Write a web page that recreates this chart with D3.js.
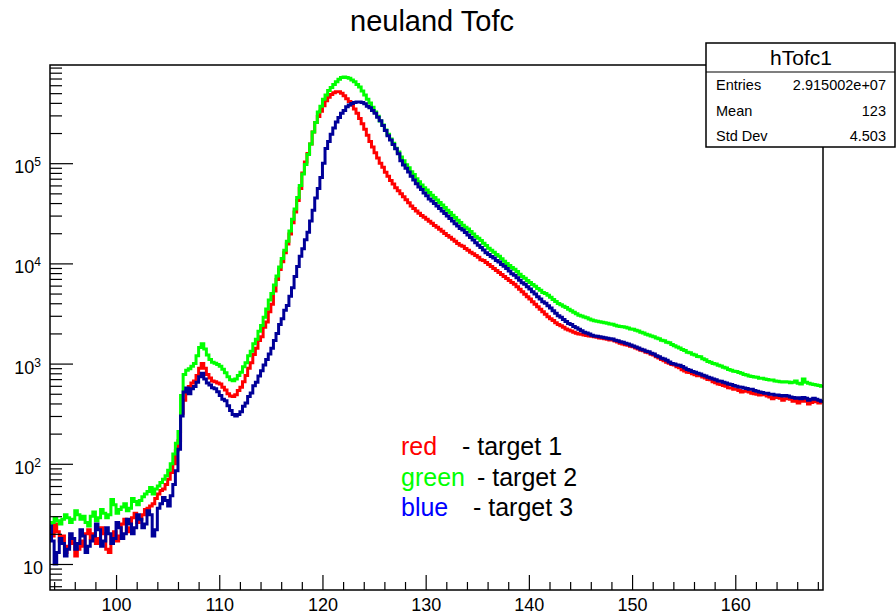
<!DOCTYPE html>
<html>
<head>
<meta charset="utf-8">
<script src="https://cdn.jsdelivr.net/npm/d3@7"></script>
<style>
  body { margin: 0; background: #fff; }
  svg { display: block; font-family: "Liberation Sans", Arial, Helvetica, sans-serif; }
</style>
</head>
<body>
<div class="chart"></div>
<script>
// histogram binning (0.25 wide bins starting at 93.5)
var binStart = 93.5;
var binWidth = 0.25;

// target 1
var red = [
  22,19, 25,21, 17,19, 13,15, 18,16, 12,14, 17,15, 20,22, 18,20, 16,18,
  23,20, 14,13, 19,21, 17,19, 25,28, 21,23, 29,32, 26,28, 31,35, 36,38,
  40,45, 50,54, 56,62, 70,82, 100,135, 170,320, 430,540, 590,640, 670,760, 900,1000,
  900,780, 720,670, 660,640, 625,580, 545,500, 475,470, 490,540, 580,660, 760,900, 1020,1230,
  1420,1700, 1850,2300, 2600,3300, 3900,5300, 6900,8700, 10400,12800, 15600,19600, 25500,32500, 42500,56000, 80000,103000,
  125000,155000, 205000,255000, 292000,330000, 375000,420000, 455000,485000, 505000,515000, 515000,500000, 472000,440000, 413000,380000, 348000,315000,
  280000,247000, 218000,190000, 165000,145000, 127000,113000, 100000,91000, 81000,74000, 67000,62000, 57000,53000, 49500,46300, 43100,40300,
  37300,35300, 33300,31600, 30100,28800, 27500,26300, 25100,23900, 22900,21900, 20900,19900, 19000,18200, 17400,16600, 15800,15200,
  14800,14100, 13500,12900, 12500,12000, 11500,10900, 10700,10200, 9750,9300, 8900,8500, 8100,7750, 7400,7050, 6750,6450,
  6200,5850, 5520,5200, 4930,4650, 4400,4150, 3900,3700, 3480,3300, 3100,2930, 2810,2690, 2560,2460, 2380,2300,
  2220,2160, 2110,2060, 2010,1970, 1960,1930, 1910,1880, 1870,1850, 1830,1800, 1790,1770, 1750,1720, 1720,1680,
  1640,1600, 1570,1540, 1520,1490, 1470,1430, 1400,1360, 1340,1300, 1280,1240, 1220,1170, 1140,1100, 1070,1030,
  1010,980, 970,930, 910,870, 845,820, 815,790, 775,755, 765,735, 720,695, 690,660, 645,625,
  620,605, 595,575, 570,555, 555,540, 520,530, 540,520, 505,500, 495,485, 505,490, 475,465,
  445,460, 465,450, 430,445, 460,440, 420,430, 405,420, 440,420, 395,410, 425,415, 405,415];

// target 2
var green = [
  22,26, 29,27, 25,28, 31,29, 26,28, 34,31, 28,30, 26,24, 30,33, 27,29,
  35,32, 29,31, 44,39, 32,35, 37,40, 34,36, 45,42, 39,43, 47,50, 53,58,
  50,56, 60,65, 70,76, 86,100, 125,160, 210,480, 780,860, 890,940, 1000,1200, 1450,1580,
  1400,1220, 1100,1030, 1010,980, 940,880, 810,740, 690,675, 700,760, 820,930, 1020,1200, 1330,1580,
  1750,2100, 2400,2900, 3500,4300, 5000,6100, 7500,9200, 11200,13500, 16600,21000, 27500,35000, 45500,60000, 78000,97000,
  122000,155000, 205000,255000, 325000,370000, 435000,480000, 530000,570000, 610000,650000, 690000,718000, 725000,718000, 705000,675000, 650000,610000,
  575000,525000, 480000,435000, 398000,362000, 325000,294000, 263000,240000, 214000,195000, 174000,158000, 141000,129000, 115000,106000, 96500,90000,
  82000,77000, 70000,65400, 60500,57000, 54000,51000, 48000,45500, 42900,40500, 38300,36200, 34000,32200, 30300,28700, 27000,25600,
  24000,22900, 22000,20800, 19600,18600, 17800,16900, 15900,15100, 14200,13500, 12900,12300, 11800,11100, 10500,9950, 9550,9100,
  8750,8300, 7800,7400, 7100,6750, 6450,6150, 5900,5600, 5380,5120, 5000,4800, 4580,4370, 4170,3980, 3870,3730,
  3620,3480, 3370,3250, 3140,3030, 2990,2910, 2860,2790, 2720,2670, 2650,2610, 2590,2550, 2530,2490, 2470,2410,
  2370,2350, 2330,2300, 2260,2220, 2200,2150, 2110,2060, 2020,1960, 1930,1880, 1850,1800, 1770,1710, 1690,1630,
  1610,1550, 1510,1460, 1430,1380, 1350,1300, 1280,1240, 1220,1180, 1170,1120, 1090,1050, 1030,1000, 990,960,
  945,920, 905,875, 860,840, 835,815, 800,780, 770,750, 745,735, 730,715, 715,700, 695,685,
  685,670, 665,660, 655,660, 655,645, 650,670, 635,625, 700,650, 635,625, 620,610, 605,595];

// target 3
var blue = [
  24,17, 10,13, 18,16, 12,14, 20,18, 14,16, 22,19, 13,15, 17,19, 25,22,
  15,17, 23,20, 16,18, 26,23, 18,20, 28,25, 20,23, 31,28, 23,25, 34,31,
  19,22, 36,40, 46,43, 38,48, 62,85, 140,300, 520,570, 500,560, 590,650, 740,800,
  700,640, 610,575, 560,525, 480,440, 425,380, 340,310, 300,310, 330,375, 405,470, 510,600,
  650,750, 850,970, 1100,1250, 1420,1700, 2000,2450, 2800,3400, 3800,4700, 5700,7400, 9300,11800, 14000,17200,
  20500,26500, 34000,45000, 56000,72000, 100000,140000, 165000,195000, 225000,258000, 285000,315000, 335000,365000, 380000,395000, 403000,409000,
  409000,403000, 393000,370000, 358000,336000, 316000,288000, 265000,238000, 212000,188000, 170000,154000, 139000,124000, 106000,96000, 89000,81500,
  74000,68000, 62500,58000, 54500,50500, 47300,44000, 41900,39500, 37400,35300, 33400,31500, 29700,28000, 26500,24900, 23600,22300,
  21500,20300, 19200,18100, 17100,16100, 15200,14400, 13600,12800, 12300,11700, 11300,10700, 10300,9750, 9350,8900, 8400,7900,
  7600,7200, 6800,6400, 6200,5850, 5550,5200, 4950,4650, 4400,4150, 4000,3780, 3580,3370, 3180,3000, 2900,2750,
  2630,2510, 2450,2350, 2280,2200, 2130,2060, 2020,1970, 1920,1890, 1870,1850, 1830,1810, 1790,1770, 1760,1710,
  1690,1650, 1630,1600, 1570,1530, 1500,1460, 1430,1390, 1370,1330, 1310,1270, 1250,1200, 1170,1130, 1110,1080,
  1040,1000, 990,970, 960,935, 905,875, 860,835, 820,800, 785,765, 750,730, 720,700, 690,670,
  665,650, 640,625, 620,605, 595,585, 580,570, 565,555, 555,540, 530,520, 515,505, 505,495,
  495,485, 485,480, 475,480, 475,465, 460,450, 455,445, 460,450, 430,440, 450,440, 430,420];

var xMajor = [100, 110, 120, 130, 140, 150, 160];
var xMinor = [94, 96, 98, 102, 104, 106, 108, 112, 114, 116, 118, 122, 124, 126, 128, 132, 134, 136, 138,
  142, 144, 146, 148, 152, 154, 156, 158, 162, 164, 166, 168];
var yDecades = [1, 2, 3, 4, 5];

var statNames = ["Entries", "Mean", "Std Dev"];
var statValues = ["2.915002e+07", "123", "4.503"];

var legendNames = ["red", "green", "blue"];
var legendTexts = ["- target 1", "- target 2", "- target 3"];

var svgWidth = 896;
var svgHeight = 614;
var frame = { left: 50, right: 823, top: 65, bottom: 590 };

var svg = d3.select(".chart")
  .append("svg")
  .attr("width", svgWidth)
  .attr("height", svgHeight);

var x = d3.scaleLinear().domain([93.6, 168.5]).range([frame.left, frame.right]);
var y = d3.scaleLog().domain([5.5, 9.55e5]).range([frame.bottom, frame.top]);

// title
svg.append("text")
  .attr("x", 432)
  .attr("y", 31)
  .attr("text-anchor", "middle")
  .attr("font-size", 29)
  .text("neuland Tofc");

svg.append("clipPath").attr("id", "frameClip")
  .append("rect")
  .attr("x", frame.left).attr("y", frame.top)
  .attr("width", frame.right - frame.left).attr("height", frame.bottom - frame.top);

// histograms as step lines
function stepPoints(values) {
  var pts = values.map((v, i) => [binStart + i * binWidth, v]);
  pts.push([binStart + values.length * binWidth, values[values.length - 1]]);
  return pts;
}

var stepLine = d3.line()
  .x(d => x(d[0]))
  .y(d => y(d[1]))
  .curve(d3.curveStepAfter);

var series = [
  { values: red, color: "#ff0000" },
  { values: green, color: "#00ff00" },
  { values: blue, color: "#000099" }
];

var histGroup = svg.append("g").attr("clip-path", "url(#frameClip)");
histGroup.selectAll("path")
  .data(series)
  .enter()
  .append("path")
  .attr("d", d => stepLine(stepPoints(d.values)))
  .attr("fill", "none")
  .attr("stroke", d => d.color)
  .attr("stroke-width", 3);

// x axis (ticks point inwards)
var xAxisMajor = svg.append("g")
  .attr("transform", `translate(0, ${frame.bottom})`)
  .call(d3.axisBottom(x).tickValues(xMajor).tickSize(-15).tickSizeOuter(0).tickPadding(8));
xAxisMajor.selectAll("text")
  .attr("font-size", 18)
  .attr("fill", "#000")
  .attr("dy", null)
  .attr("y", 21);

svg.append("g")
  .attr("transform", `translate(0, ${frame.bottom})`)
  .call(d3.axisBottom(x).tickValues(xMinor).tickSize(-8).tickSizeOuter(0).tickFormat(""));

// y axis, log
var yMinorVals = [];
[0, 1, 2, 3, 4, 5].forEach(function (e) {
  for (var k = 2; k <= 9; k++) {
    var v = k * Math.pow(10, e);
    if (v >= y.domain()[0] && v <= y.domain()[1]) yMinorVals.push(v);
  }
});

svg.append("g")
  .attr("transform", `translate(${frame.left}, 0)`)
  .call(d3.axisLeft(y).tickValues(yDecades.map(e => Math.pow(10, e))).tickSize(-23).tickSizeOuter(0).tickFormat(""));

svg.append("g")
  .attr("transform", `translate(${frame.left}, 0)`)
  .call(d3.axisLeft(y).tickValues(yMinorVals).tickSize(-12).tickSizeOuter(0).tickFormat(""));

svg.selectAll(".domain").remove();
svg.selectAll(".tick line").attr("stroke", "#000").attr("stroke-width", 1.2);

// y tick labels with superscript exponents
var yLabels = svg.append("g");
yDecades.forEach(function (e) {
  var t = yLabels.append("text")
    .attr("x", e === 1 ? 43 : 41)
    .attr("y", y(Math.pow(10, e)) + 10)
    .attr("text-anchor", "end")
    .attr("font-size", 18);
  t.append("tspan").text("10");
  if (e > 1) {
    t.append("tspan").attr("font-size", 12).attr("dy", -7).text(e);
  }
});

// frame
svg.append("rect")
  .attr("x", frame.left).attr("y", frame.top)
  .attr("width", frame.right - frame.left).attr("height", frame.bottom - frame.top)
  .attr("fill", "none")
  .attr("stroke", "#000")
  .attr("stroke-width", 1.5);

// stats box
var stats = svg.append("g");
stats.append("rect")
  .attr("x", 706).attr("y", 43).attr("width", 189).attr("height", 104)
  .attr("fill", "#fff").attr("stroke", "#000").attr("stroke-width", 1.5);
stats.append("line")
  .attr("x1", 706).attr("x2", 895).attr("y1", 72).attr("y2", 72)
  .attr("stroke", "#000").attr("stroke-width", 1.2);
stats.append("text")
  .attr("x", 801).attr("y", 65)
  .attr("text-anchor", "middle")
  .attr("font-size", 21)
  .text("hTofc1");
statNames.forEach(function (name, i) {
  stats.append("text")
    .attr("x", 716).attr("y", 90 + i * 25.5)
    .attr("font-size", 14.5)
    .text(name);
  stats.append("text")
    .attr("x", 886).attr("y", 90 + i * 25.5)
    .attr("text-anchor", "end")
    .attr("font-size", 14.5)
    .text(statValues[i]);
});

// legend text
var legendColors = ["#ff0000", "#00ff00", "#0000ff"];
var legendTextX = [462, 477, 473];
legendNames.forEach(function (name, i) {
  svg.append("text")
    .attr("x", 401).attr("y", 455 + i * 30.5)
    .attr("font-size", 25)
    .attr("fill", legendColors[i])
    .text(name);
  svg.append("text")
    .attr("x", legendTextX[i]).attr("y", 455 + i * 30.5)
    .attr("font-size", 25)
    .attr("fill", "#000")
    .text(legendTexts[i]);
});
</script>
</body>
</html>
